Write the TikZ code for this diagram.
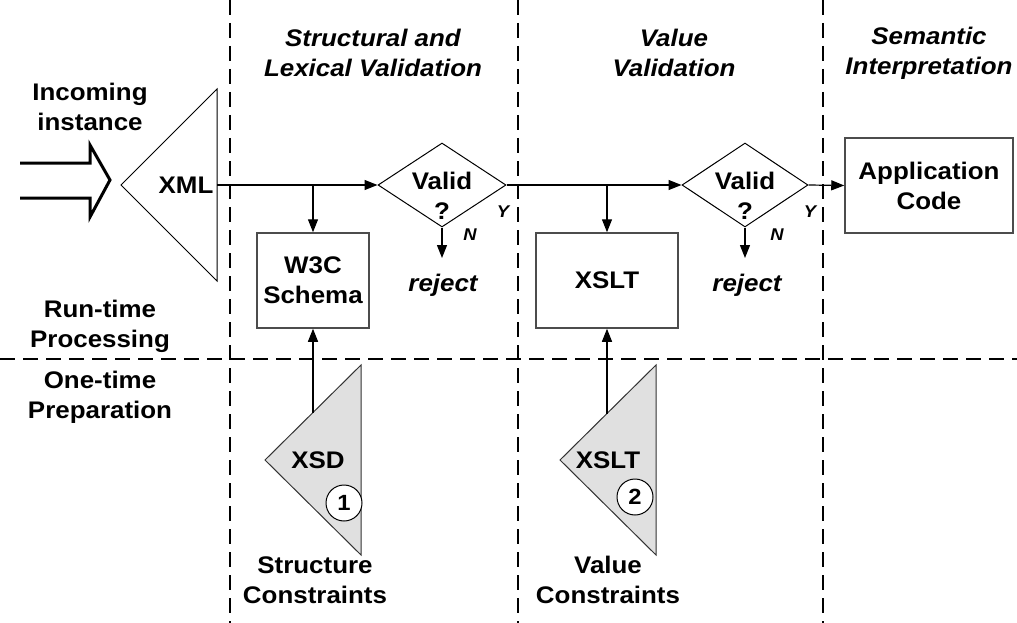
\documentclass[tikz,border=0pt]{standalone}
\usepackage{fontspec}
\setmainfont{Liberation Sans}[FakeStretch=1.08]
\usetikzlibrary{arrows.meta}
\usetikzlibrary{shapes.geometric}

\tikzset{
  lbl/.style={font=\fontsize{24}{30}\selectfont\bfseries, align=center, inner sep=0pt},
  ttl/.style={lbl, font=\fontsize{24}{30}\selectfont\bfseries\itshape},
  yn/.style={font=\fontsize{17}{20}\selectfont\bfseries\itshape, inner sep=0pt},
  sep/.style={line width=2pt, dash pattern=on 15pt off 8pt},
  flow/.style={line width=1.2pt, -{Triangle[length=13pt,width=10pt]}},
  proc/.style={lbl, draw=black!70, line width=1.5pt},
  valid/.style={diamond, draw, line width=1pt, minimum width=128pt, minimum height=84pt, inner sep=0pt},
  src/.style={draw=black!80, line width=1pt, fill=black!12},
  num/.style={circle, draw, fill=white, line width=1pt, minimum size=36pt, inner sep=0pt,
    font=\fontsize{22}{24}\selectfont\bfseries}
}

\begin{document}
\begin{tikzpicture}[x=1pt,y=-1pt]
    \useasboundingbox (0,0) rectangle (1017,623);
    % phase separators
    \draw[sep] (230,0) -- (230,623);
    \draw[sep] (518,0) -- (518,623);
    \draw[sep] (823,0) -- (823,623);
    \draw[sep] (0,359) -- (1017,359);

    % headings
    \node[ttl] (hstruct) at (373,53) {Structural and\\Lexical Validation};
    \node[ttl] (hvalue) at (674,53) {Value\\Validation};
    \node[ttl] (hsem) at (929,53) {Semantic\\Interpretation};
    \node[lbl] (hin) at (90,107) {Incoming\\instance};
    \node[lbl] (hrun) at (100,326) {Run-time\\Processing};
    \node[lbl] (hone) at (100,397) {One-time\\Preparation};

    % incoming arrow
    \draw[line width=3pt, line join=miter]
      (20,163) -- (90,163) -- (90,145) -- (110,180) -- (90,217) -- (90,198) -- (20,198);

    % XML document
    \draw[line width=1pt] (217,89) -- (121,185) -- (217,281) -- cycle;
    \node[lbl] (xml) at (186,185) {XML};
    \coordinate (xmlout) at (217,185);

    % validators
    \node[proc, minimum width=112pt, minimum height=95pt] (w3c) at (313,280.5) {W3C\\Schema};
    \node[proc, minimum width=142pt, minimum height=95pt] (xslt) at (607,280.5) {XSLT};
    \node[proc, minimum width=168pt, minimum height=95pt] (app) at (929,185.5) {Application\\Code};

    % decisions
    \node[valid] (v1) at (442,185) {};
    \node[lbl] (v1t) at (442,196) {Valid\\?};
    \node[valid, minimum width=126pt] (v2) at (745,185) {};
    \node[lbl] (v2t) at (745,196) {Valid\\?};
    \node[yn] (y1) at (503,212) {Y};
    \node[yn] (n1) at (470,235) {N};
    \node[yn] (y2) at (810,212) {Y};
    \node[yn] (n2) at (777,235) {N};
    \coordinate (rej1top) at (442,258);
    \coordinate (rej2top) at (745,258);
    \node[ttl] (rej1) at (443,285) {reject};
    \node[ttl] (rej2) at (747,285) {reject};

    % flow
    \draw[flow] (xmlout) -- (v1.west);
    \draw[flow] (w3c.north |- xmlout) -- (w3c.north);
    \draw[flow] (v1.east) -- (v2.west);
    \draw[flow] (xslt.north |- v1.east) -- (xslt.north);
    \draw[flow] (v2.east) -- (app.west);
    \draw[flow] (v1.south) -- (rej1top);
    \draw[flow] (v2.south) -- (rej2top);

    % constraint sources
    \draw[src] (361,365) -- (265,460) -- (361,555) -- cycle;
    \draw[src] (656,365) -- (560,460) -- (656,555) -- cycle;
    \node[lbl] (xsd) at (318,460) {XSD};
    \node[lbl] (xsl) at (608,460) {XSLT};
    \node[num] (c1) at (344,503) {1};
    \node[num] (c2) at (635,497) {2};
    \coordinate (xsdtop) at (313,413);
    \coordinate (xsltop) at (607,414);
    \draw[flow] (xsdtop) -- (w3c.south);
    \draw[flow] (xsltop) -- (xslt.south);

    \node[lbl] (lstruct) at (315,580) {Structure\\Constraints};
    \node[lbl] (lvalue) at (608,580) {Value\\Constraints};
\end{tikzpicture}
\end{document}
